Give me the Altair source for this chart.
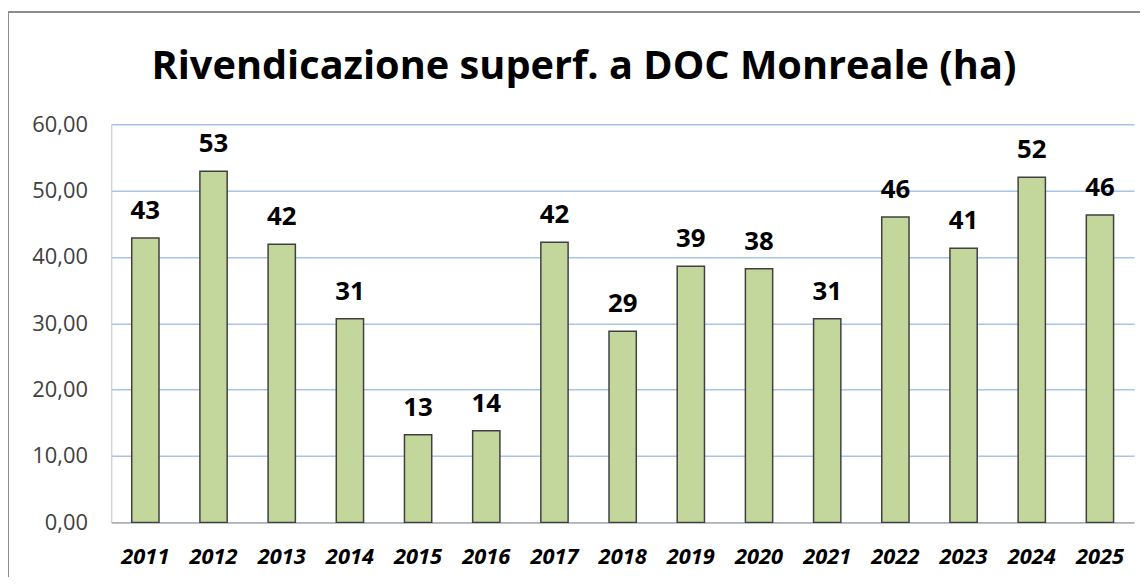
import altair as alt
import pandas as pd

years = ["2011", "2012", "2013", "2014", "2015", "2016", "2017", "2018",
         "2019", "2020", "2021", "2022", "2023", "2024", "2025"]
values = [42.85, 52.9, 41.9, 30.7, 13.2, 13.8, 42.2, 28.8,
          38.6, 38.2, 30.7, 46.0, 41.3, 52.0, 46.3]
y_ticks = [0, 10, 20, 30, 40, 50, 60]
title_text = "Rivendicazione superf. a DOC Monreale (ha)"

df = pd.DataFrame({"anno": years, "ha": values})

FONT = "Open Sans"

x_enc = alt.X(
    "anno:N", sort=years, title=None,
    scale=alt.Scale(paddingInner=0.6, paddingOuter=0.3),
    axis=alt.Axis(labelAngle=0, labelFont=FONT, labelFontSize=22,
                  labelFontWeight="bold", labelFontStyle="italic",
                  labelColor="black", labelPadding=24, ticks=False,
                  domainColor="#A6A6A6", domainWidth=1.5, grid=False),
)
y_enc = alt.Y(
    "ha:Q", title=None,
    scale=alt.Scale(domain=[0, 60], nice=False),
    axis=alt.Axis(values=y_ticks,
                  labelExpr="replace(format(datum.value, '.2f'), '.', ',')",
                  labelFont=FONT, labelFontSize=22, labelColor="#404040",
                  labelPadding=24, ticks=False,
                  gridColor="#A9C3EA", gridWidth=1.5,
                  domainColor="#BFBFBF", domainWidth=1),
)

bars = alt.Chart(df).mark_bar(
    fill="#C3D69B", stroke="#404040", strokeWidth=1.5
).encode(x=x_enc, y=y_enc)

labels = alt.Chart(df).mark_text(
    dy=-19, baseline="alphabetic", fontSize=26, fontWeight="bold",
    font=FONT, color="black"
).encode(x=x_enc, y=y_enc, text=alt.Text("ha:Q", format=".0f"))

deco = pd.DataFrame({"t": [title_text]})

border = alt.Chart(deco).mark_rect(
    fill="transparent", stroke="#8C8C8C", strokeWidth=2
).encode(x=alt.value(-104), x2=alt.value(1200),
         y=alt.value(-113), y2=alt.value(700))

title = alt.Chart(deco).mark_text(
    font=FONT, fontSize=40, fontWeight="bold", color="black",
    baseline="alphabetic", align="center"
).encode(x=alt.value(476), y=alt.value(-46), text="t:N")

chart = alt.layer(border, bars, labels, title).properties(
    width=1030, height=401,
    padding={"left": 104, "top": 115, "right": 6, "bottom": 53},
    autosize="none",
).configure_view(strokeWidth=0)

chart.save("out.html", embed_options={"renderer": "svg", "actions": False})
